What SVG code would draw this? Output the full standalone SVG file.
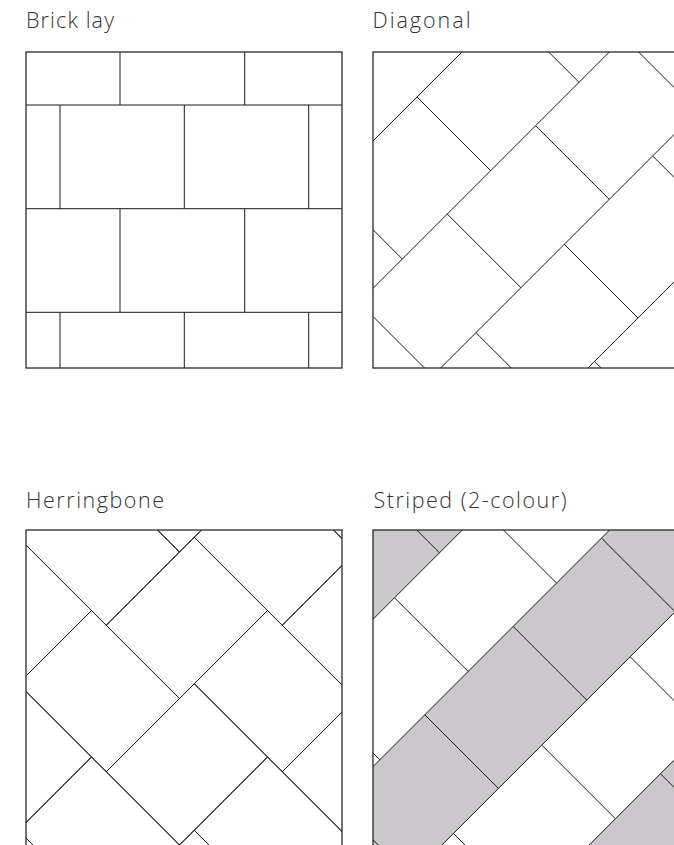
<svg xmlns="http://www.w3.org/2000/svg" width="674" height="845" viewBox="0 0 674 845">
<style>
.lbl{font-family:"Open Sans","Liberation Sans",sans-serif;font-size:21.5px;font-weight:300;fill:#333}
.ln{stroke:#1a1a1a;stroke-width:1;fill:none;vector-effect:non-scaling-stroke}
.box{stroke:#2a2a2a;stroke-width:1.3;fill:none}
.grey{fill:#cac8ca;stroke:none}
</style>
<defs>
<clipPath id="cBrick"><rect x="26" y="52" width="316" height="316"/></clipPath>
<clipPath id="cDiag"><rect x="373" y="52" width="316" height="316"/></clipPath>
<clipPath id="cHerr"><rect x="26" y="530" width="316" height="316"/></clipPath>
<clipPath id="cStripe"><rect x="373" y="530" width="316" height="316"/></clipPath>
</defs>
<rect width="674" height="845" fill="#fff"/>

<g id="brick-lay">
<text class="lbl" x="26" y="28.3" textLength="88">Brick lay</text>
<g clip-path="url(#cBrick)">
<line class="ln" x1="26" y1="105" x2="342" y2="105"/>
<line class="ln" x1="26" y1="208.7" x2="342" y2="208.7"/>
<line class="ln" x1="26" y1="312.3" x2="342" y2="312.3"/>
<line class="ln" x1="120" y1="52" x2="120" y2="105"/>
<line class="ln" x1="244.7" y1="52" x2="244.7" y2="105"/>
<line class="ln" x1="60" y1="105" x2="60" y2="208.7"/>
<line class="ln" x1="184.3" y1="105" x2="184.3" y2="208.7"/>
<line class="ln" x1="308.7" y1="105" x2="308.7" y2="208.7"/>
<line class="ln" x1="120" y1="208.7" x2="120" y2="312.3"/>
<line class="ln" x1="244.7" y1="208.7" x2="244.7" y2="312.3"/>
<line class="ln" x1="60" y1="312.3" x2="60" y2="368"/>
<line class="ln" x1="184.3" y1="312.3" x2="184.3" y2="368"/>
<line class="ln" x1="308.7" y1="312.3" x2="308.7" y2="368"/>
</g>
<rect class="box" x="26" y="52" width="316" height="316"/>
</g>

<g id="diagonal">
<text class="lbl" x="372.5" y="28.3" textLength="98">Diagonal</text>
<g clip-path="url(#cDiag)">
<g transform="matrix(0.5 0.5 0.5 -0.5 0 0)">
<line class="ln" x1="514" y1="-100" x2="514" y2="800"/>
<line class="ln" x1="661.3" y1="-100" x2="661.3" y2="800"/>
<line class="ln" x1="808.6" y1="-100" x2="808.6" y2="800"/>
<line class="ln" x1="955.9" y1="-100" x2="955.9" y2="800"/>
<line class="ln" x1="514" y1="143.3" x2="661.3" y2="143.3"/>
<line class="ln" x1="514" y1="320" x2="661.3" y2="320"/>
<line class="ln" x1="514" y1="496.7" x2="661.3" y2="496.7"/>
<line class="ln" x1="661.3" y1="56.5" x2="808.6" y2="56.5"/>
<line class="ln" x1="661.3" y1="233.2" x2="808.6" y2="233.2"/>
<line class="ln" x1="661.3" y1="409.9" x2="808.6" y2="409.9"/>
<line class="ln" x1="661.3" y1="586.6" x2="808.6" y2="586.6"/>
<line class="ln" x1="808.6" y1="143.3" x2="955.9" y2="143.3"/>
<line class="ln" x1="808.6" y1="320" x2="955.9" y2="320"/>
<line class="ln" x1="808.6" y1="496.7" x2="955.9" y2="496.7"/>
<line class="ln" x1="955.9" y1="233.2" x2="1103.2" y2="233.2"/>
<line class="ln" x1="955.9" y1="409.9" x2="1103.2" y2="409.9"/>
</g>
</g>
<rect class="box" x="373" y="52" width="316" height="316"/>
</g>

<g id="herringbone">
<text class="lbl" x="26" y="508.3" textLength="138">Herringbone</text>
<g clip-path="url(#cHerr)">
<g transform="matrix(0.5 0.5 0.5 -0.5 0 0)">
<rect class="ln" x="555.5" y="-519" width="176" height="146.5"/>
<rect class="ln" x="702" y="-665.5" width="176" height="146.5"/>
<rect class="ln" x="848.5" y="-812" width="176" height="146.5"/>
<rect class="ln" x="731.5" y="-343" width="176" height="146.5"/>
<rect class="ln" x="878" y="-489.5" width="176" height="146.5"/>
<rect class="ln" x="1024.5" y="-636" width="176" height="146.5"/>
<rect class="ln" x="409" y="-548.5" width="146.5" height="176"/>
<rect class="ln" x="555.5" y="-695" width="146.5" height="176"/>
<rect class="ln" x="702" y="-841.5" width="146.5" height="176"/>
<rect class="ln" x="848.5" y="-988" width="146.5" height="176"/>
<rect class="ln" x="585" y="-372.5" width="146.5" height="176"/>
<rect class="ln" x="731.5" y="-519" width="146.5" height="176"/>
<rect class="ln" x="878" y="-665.5" width="146.5" height="176"/>
<rect class="ln" x="1024.5" y="-812" width="146.5" height="176"/>
<rect class="ln" x="761" y="-196.5" width="146.5" height="176"/>
<rect class="ln" x="907.5" y="-343" width="146.5" height="176"/>
<rect class="ln" x="1054" y="-489.5" width="146.5" height="176"/>
<rect class="ln" x="1200.5" y="-636" width="146.5" height="176"/>
</g>
</g>
<rect class="box" x="26" y="530" width="316" height="316"/>
</g>

<g id="striped">
<text class="lbl" x="373.5" y="508.3" textLength="193">Striped (2-colour)</text>
<g clip-path="url(#cStripe)">
<g transform="matrix(0.5 0.5 0.5 -0.5 0 0)">
<rect class="grey" x="845" y="-700" width="147.3" height="1000"/>
<rect class="grey" x="1139.6" y="-700" width="147.3" height="1000"/>
<rect class="grey" x="1434.2" y="-700" width="147.3" height="1000"/>
<line class="ln" x1="992.3" y1="-700" x2="992.3" y2="300"/>
<line class="ln" x1="1139.6" y1="-700" x2="1139.6" y2="300"/>
<line class="ln" x1="1286.9" y1="-700" x2="1286.9" y2="300"/>
<line class="ln" x1="1434.2" y1="-700" x2="1434.2" y2="300"/>
<line class="ln" x1="845" y1="-113.3" x2="992.3" y2="-113.3"/>
<line class="ln" x1="992.3" y1="-380" x2="1139.6" y2="-380"/>
<line class="ln" x1="992.3" y1="-203.3" x2="1139.6" y2="-203.3"/>
<line class="ln" x1="992.3" y1="-26.6" x2="1139.6" y2="-26.6"/>
<line class="ln" x1="1139.6" y1="-466.7" x2="1286.9" y2="-466.7"/>
<line class="ln" x1="1139.6" y1="-290" x2="1286.9" y2="-290"/>
<line class="ln" x1="1139.6" y1="-113.3" x2="1286.9" y2="-113.3"/>
<line class="ln" x1="1139.6" y1="63.4" x2="1286.9" y2="63.4"/>
<line class="ln" x1="1286.9" y1="-380" x2="1434.2" y2="-380"/>
<line class="ln" x1="1286.9" y1="-203.3" x2="1434.2" y2="-203.3"/>
<line class="ln" x1="1286.9" y1="-26.6" x2="1434.2" y2="-26.6"/>
<line class="ln" x1="1434.2" y1="-290" x2="1581.5" y2="-290"/>
<line class="ln" x1="1434.2" y1="-113.3" x2="1581.5" y2="-113.3"/>
</g>
</g>
<rect class="box" x="373" y="530" width="316" height="316"/>
</g>
</svg>
